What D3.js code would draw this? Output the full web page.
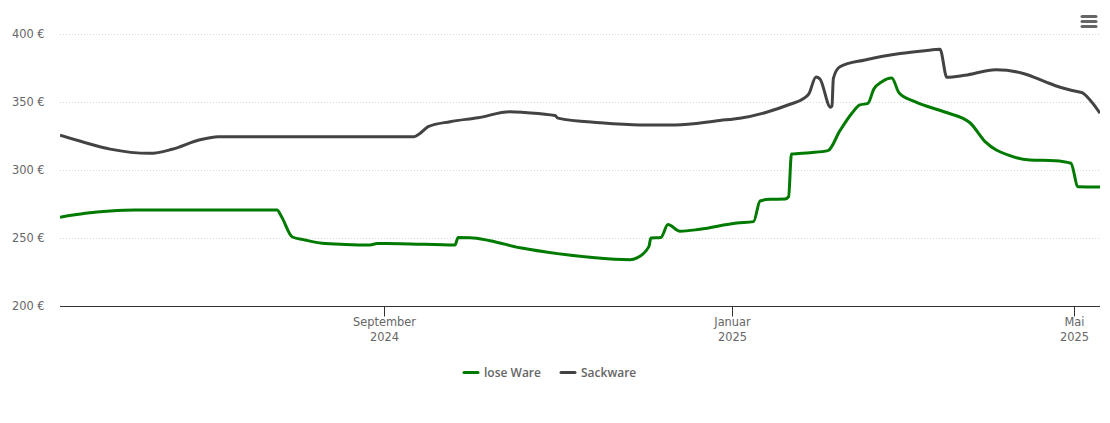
<!DOCTYPE html>
<html><head><meta charset="utf-8">
<script src="https://cdn.jsdelivr.net/npm/d3@7"></script>
<style>html,body{margin:0;padding:0;background:#fff}svg{display:block}</style>
</head><body><svg id="c" width="1110" height="423"></svg>
<script>
// Days counted from 1 September 2024
const loseDays=[-113.8,-104.9,-96.2,-87.5,-37.7,-36.1,-32.3,-27.9,-21.9,-13.8,-5.1,-2.6,5.4,24.7,25.8,30,37,47.5,56.6,72.1,86.1,88.5,92.7,93.4,96.9,99.4,103.6,110.6,123.6,129.4,131.7,135.2,140.4,141.7,142.7,149.2,155.5,159.7,163.9,166.7,169.5,171.6,174.4,177.9,180.4,186,196.5,205.3,210.6,219.3,226.3,235.1,240.7,243.2,250.9];
const loseValues=[265.6,268.5,270.2,271,271,266,251.1,248.9,246.5,245.6,245.2,246.3,246.2,245.2,250.7,250.6,248.4,243.2,240.1,236.2,234.4,235.7,244,250.4,250.8,260.3,255.3,256.8,261.4,262.4,277.6,278.8,279,280.7,312.1,313.1,314.6,329.3,342.1,348.2,349.4,359.9,365.3,368,357.2,350.6,343,335.1,321.2,310.9,307.7,307.2,305.3,288.1,287.9];
const sackDays=[-113.8,-104.9,-96.2,-82.2,-74.5,-64.7,-58.4,10.3,12.4,15.3,23,32.8,44,49.3,59.8,60.8,75.6,89.6,101.9,117.6,124.6,133.4,142.2,146.7,148.8,151.3,152.7,156.4,156.9,157.4,159.7,168.5,180.8,189.5,194.8,197.2,203.5,214.4,224.6,231.6,236.9,241.1,244.6,247.4,250.9];
const sackValues=[325.9,320.4,315.7,312.6,315.6,322.6,324.9,324.9,327.2,332.2,335.9,338.8,343.2,342.6,340.4,338.5,335.1,333.5,333.5,336.8,338.4,342.5,348.7,352.6,356.3,368.8,367.3,346.5,347.4,367.8,376.3,381.3,386,388.1,389.1,368.5,370,374.1,371,365.3,361.2,358.8,357.2,351.8,342.1];
const yTicks=[200,250,300,350,400];
const xTickDates=["2024-09-01","2025-01-01","2025-05-01"];
const xTickLines=[["September","2024"],["Januar","2025"],["Mai","2025"]];
const seriesNames=["lose Ware","Sackware"];
const seriesColors=["#007a00","#434343"];

const FONT='"DejaVu Sans",sans-serif';
const base=Date.UTC(2024,8,1), dayMs=864e5;
const toDate=d=>new Date(base+d*dayMs);
const x=d3.scaleUtc().domain([toDate(-113.8),toDate(250.9)]).range([60,1100]);
const y=d3.scaleLinear().domain([200,400]).range([306.5,34.5]);
const svg=d3.select("#c");

svg.append("g").selectAll("line").data(yTicks.slice(1)).join("line")
  .attr("x1",60).attr("x2",1100).attr("y1",d=>y(d)).attr("y2",d=>y(d))
  .attr("stroke","#d8d8d8").attr("stroke-width",1).attr("stroke-dasharray","1,2");

const yAxis=svg.append("g").attr("transform","translate(60,-0.5)")
  .call(d3.axisLeft(y).offset(0).tickValues(yTicks).tickSize(0).tickPadding(15.5).tickFormat(d=>d+" €"));
yAxis.select(".domain").remove();
yAxis.selectAll("text").attr("font-size",11.4).attr("fill","#666").attr("font-family",FONT);

const xDates=xTickDates.map(s=>new Date(s+"T00:00:00Z"));
const xAxis=svg.append("g").attr("transform","translate(0,306.5)")
  .call(d3.axisBottom(x).offset(0).tickValues(xDates).tickSize(10).tickSizeOuter(0).tickFormat(""));
xAxis.select(".domain").attr("stroke","#333").attr("stroke-width",1);
xAxis.selectAll(".tick").attr("transform",d=>`translate(${Math.floor(x(d))+0.5},0)`);
xAxis.selectAll(".tick line").attr("stroke","#333");
xAxis.selectAll(".tick").each(function(d,i){
  const t=d3.select(this).select("text").attr("y",0).attr("dy",null).text(null)
    .attr("font-size",11.4).attr("fill","#666").attr("font-family",FONT);
  xTickLines[i].forEach((s,k)=>t.append("tspan").attr("x",0).attr("y",k?34.5:19.5).text(s));
});

const line=d3.line().x(d=>x(toDate(d[0]))).y(d=>y(d[1])).curve(d3.curveMonotoneX);
svg.append("clipPath").attr("id","pl").append("rect").attr("x",60).attr("y",0).attr("width",1040).attr("height",306.5);
[[loseDays,loseValues],[sackDays,sackValues]].forEach((s,i)=>{
  svg.append("path").attr("clip-path","url(#pl)").datum(d3.zip(s[0],s[1])).attr("fill","none")
    .attr("stroke",seriesColors[i]).attr("stroke-width",3).attr("stroke-linejoin","round").attr("d",line);
});

// legend
const legendX=[464,561], legendText=[484,581];
seriesNames.forEach((n,i)=>{
  svg.append("line").attr("x1",legendX[i]).attr("x2",legendX[i]+14).attr("y1",372.5).attr("y2",372.5)
    .attr("stroke",seriesColors[i]).attr("stroke-width",3).attr("stroke-linecap","round");
  svg.append("text").attr("x",legendText[i]).attr("y",377).attr("font-size",12).attr("font-weight",600)
    .attr("fill","#666").attr("font-family",'"Open Sans",sans-serif').text(n);
});

// menu icon
svg.append("g").selectAll("line").data([0,1,2]).join("line")
  .attr("x1",1082).attr("x2",1096).attr("y1",d=>16.5+d*5).attr("y2",d=>16.5+d*5)
  .attr("stroke","#666").attr("stroke-width",3).attr("stroke-linecap","round");
</script></body></html>
